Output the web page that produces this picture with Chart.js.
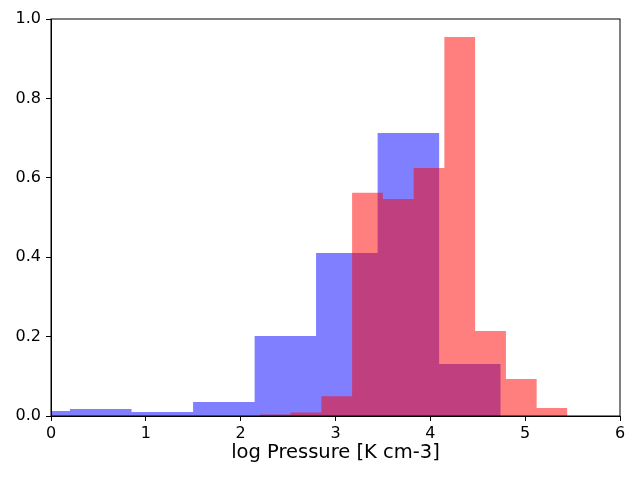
<!DOCTYPE html>
<html>
<head>
<meta charset="utf-8">
<script src="https://cdn.jsdelivr.net/npm/chart.js@4"></script>
<style>
  html, body { margin: 0; padding: 0; background: #fff; }
  #wrap { width: 640px; height: 480px; }
</style>
</head>
<body>
<div id="wrap"><canvas id="hist" width="640" height="480"></canvas></div>
<script>
// Histogram bin edges and heights
const blueEdges = [-0.448, 0.200, 0.849, 1.498, 2.147, 2.795, 3.444, 4.093, 4.742];
const blueHeights = [0.0126, 0.0176, 0.010, 0.035, 0.2015, 0.4106, 0.7128, 0.131];

const redEdges = [2.202, 2.526, 2.851, 3.175, 3.499, 3.824, 4.148, 4.472, 4.797, 5.121, 5.445];
const redHeights = [0.004, 0.009, 0.05, 0.5625, 0.5466, 0.6247, 0.9547, 0.214, 0.093, 0.02];

const xTicks = [0, 1, 2, 3, 4, 5, 6];
const yTicks = [0, 0.2, 0.4, 0.6, 0.8, 1.0];
const xLabel = "log Pressure [K cm-3]";

// turn edges + heights into points for a stepped line
// (each point holds its height until the next edge)
const toSteps = (edges, heights) => {
    const pts = heights.map((h, i) => ({ x: edges[i], y: h }));
    pts.push({ x: edges[edges.length - 1], y: heights[heights.length - 1] });
    return pts;
};

// matplotlib-like box around the plot area
const frame = {
    id: "frame",
    afterDatasetsDraw(chart) {
        const { ctx, chartArea: a } = chart;
        ctx.save();
        ctx.strokeStyle = "#000";
        ctx.lineWidth = 1;
        ctx.strokeRect(a.left, a.top, a.right - a.left, a.bottom - a.top);
        ctx.restore();
    },
};

Chart.defaults.font.family = "'DejaVu Sans', sans-serif";
Chart.defaults.color = "#000";

const histChart = () => {
    const ctx = document.getElementById("hist");

    new Chart(ctx, {
        type: "line",
        data: {
            datasets: [
                {
                    label: "red",
                    data: toSteps(redEdges, redHeights),
                    stepped: "before",
                    fill: "origin",
                    backgroundColor: "rgba(255, 0, 0, 0.5)",
                    borderColor: "transparent",
                    borderWidth: 0,
                    pointRadius: 0,
                },
                {
                    label: "blue",
                    data: toSteps(blueEdges, blueHeights),
                    stepped: "before",
                    fill: "origin",
                    backgroundColor: "rgba(0, 0, 255, 0.5)",
                    borderColor: "transparent",
                    borderWidth: 0,
                    pointRadius: 0,
                },
            ],
        },
        options: {
            responsive: false,
            animation: false,
            layout: {
                padding: { left: 0, right: 20, top: 19, bottom: 0 },
            },
            scales: {
                x: {
                    type: "linear",
                    min: 0,
                    max: 6,
                    afterBuildTicks: (scale) => {
                        scale.ticks = xTicks.map((v) => ({ value: v }));
                    },
                    afterFit: (scale) => {
                        scale.height = 64;
                    },
                    ticks: {
                        font: { size: 16 },
                        padding: 3,
                        maxRotation: 0,
                        callback: (v) => String(v),
                    },
                    grid: {
                        drawOnChartArea: false,
                        drawTicks: true,
                        tickLength: 5,
                        tickColor: "#000",
                        tickWidth: 1,
                    },
                    border: { display: true, color: "#000", width: 1 },
                    title: {
                        display: true,
                        text: xLabel,
                        font: { size: 19.5 },
                        padding: { top: 0, bottom: 15 },
                    },
                },
                y: {
                    type: "linear",
                    min: 0,
                    max: 1,
                    afterBuildTicks: (scale) => {
                        scale.ticks = yTicks.map((v) => ({ value: v }));
                    },
                    afterFit: (scale) => {
                        scale.width = 51;
                    },
                    ticks: {
                        font: { size: 16 },
                        padding: 5,
                        callback: (v) => v.toFixed(1),
                    },
                    grid: {
                        drawOnChartArea: false,
                        drawTicks: true,
                        tickLength: 5,
                        tickColor: "#000",
                        tickWidth: 1,
                    },
                    border: { display: true, color: "#000", width: 1 },
                },
            },
            plugins: {
                legend: { display: false },
                tooltip: { enabled: false },
            },
        },
        plugins: [frame],
    });
};

histChart();
</script>
</body>
</html>
